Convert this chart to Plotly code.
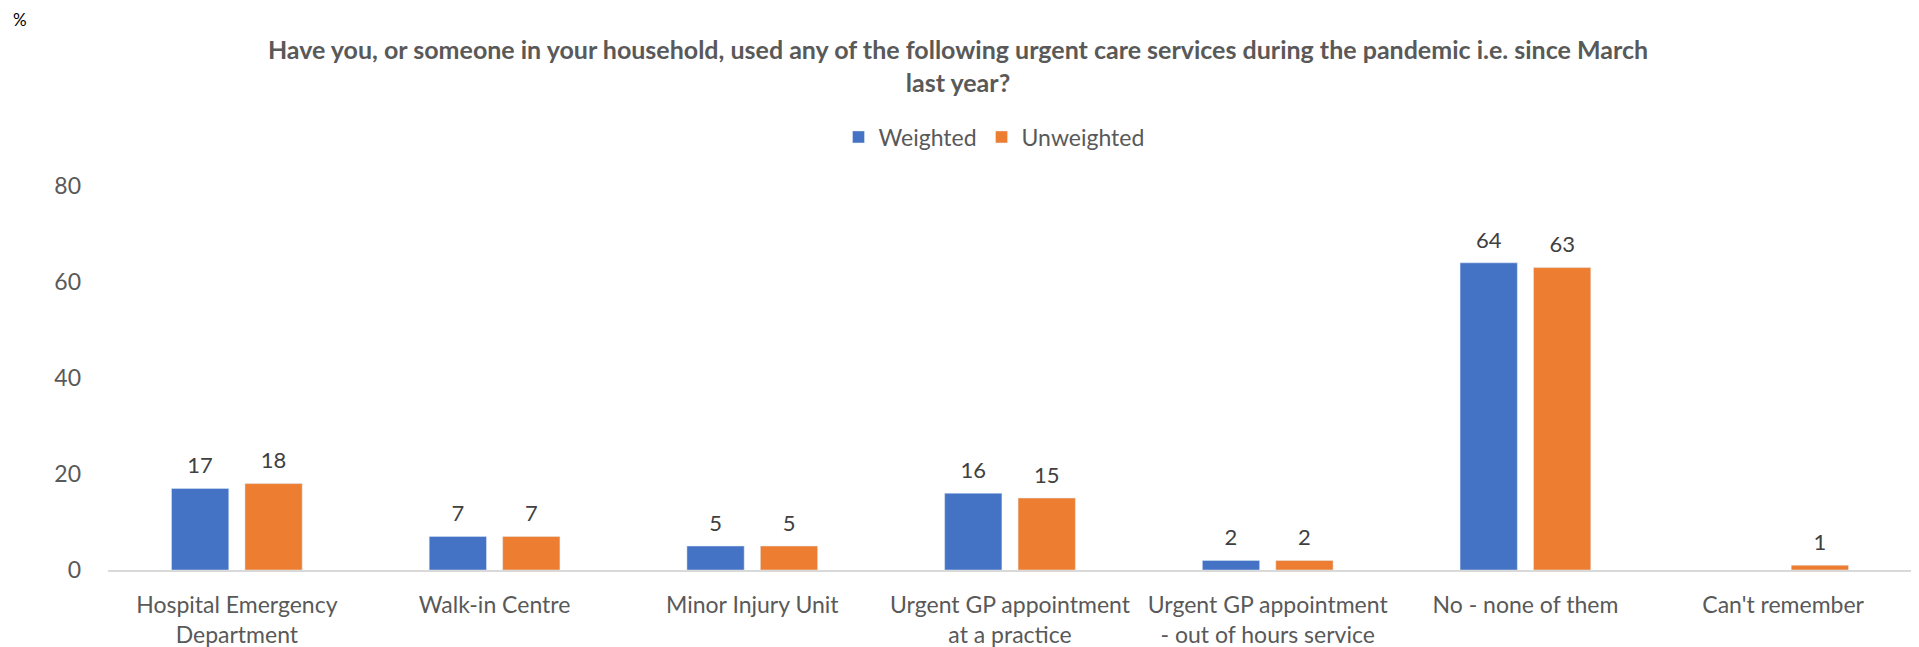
import plotly.graph_objects as go

categories = ["Hospital Emergency<br>Department", "Walk-in Centre", "Minor Injury Unit",
              "Urgent GP appointment<br>at a practice", "Urgent GP appointment<br>- out of hours service",
              "No - none of them", "Can't remember"]
weighted = [17, 7, 5, 16, 2, 64, None]
unweighted = [18, 7, 5, 15, 2, 63, 1]
y_ticks = [0, 20, 40, 60, 80]

FONT = "Lato"
GRAY = "#595959"
W, H = 1911, 639  # page body has an 8px margin
L, R, T, B = 100, 7, 178, 77
PW, PH = W - L - R, H - T - B


def labels(vals):
    return ["" if v is None else str(v) for v in vals]


fig = go.Figure()
for name, vals, color, grp in [("Weighted", weighted, "#4472C4", "w"),
                               ("Unweighted", unweighted, "#ED7D31", "u")]:
    fig.add_trace(go.Bar(name=name, x=categories, y=vals, marker_color=color,
                         offsetgroup=grp, alignmentgroup="a", hoverinfo="skip"))
for name, vals, grp in [("Weighted", weighted, "w"), ("Unweighted", unweighted, "u")]:
    fig.add_trace(go.Scatter(x=categories, y=vals, mode="markers+text", text=labels(vals),
                             textposition="top center", offsetgroup=grp, alignmentgroup="a",
                             marker=dict(size=14, opacity=0), showlegend=False, hoverinfo="skip",
                             cliponaxis=False,
                             textfont=dict(family=FONT, size=22, color="#404040")))

fig.update_layout(
    width=W, height=H,
    margin=dict(l=L, r=R, t=T, b=B, autoexpand=False),
    paper_bgcolor="white", plot_bgcolor="white",
    barmode="group", bargap=0.43, bargroupgap=0.22,
    scattermode="group", scattergap=0.43,
    font=dict(family=FONT, color=GRAY),
    title=dict(text="Have you, or someone in your household, used any of the following urgent care services during the pandemic i.e. since March<br>last year?",
               x=950 / W, xref="container", xanchor="center", y=1 - 51 / H, yref="container", yanchor="top",
               font=dict(family=FONT, size=25, color=GRAY, weight="bold")),
    legend=dict(orientation="h", x=(986 - L) / PW, xanchor="center", y=1 + (T - 129) / PH, yanchor="middle",
                font=dict(family=FONT, size=23, color=GRAY), itemwidth=30,
                traceorder="normal"),
    showlegend=True,
)
fig.update_xaxes(showline=True, linecolor="#D9D9D9", linewidth=2, showgrid=False,
                 tickfont=dict(family=FONT, size=23, color=GRAY), ticks="", ticklabelstandoff=13)
fig.update_yaxes(range=[0, 80], tickvals=y_ticks, showgrid=False, zeroline=False, showline=False,
                 tickfont=dict(family=FONT, size=23, color=GRAY), ticks="", ticklabelstandoff=26)
fig.add_annotation(text="%", xref="paper", yref="paper", x=(12 - L) / PW, y=1 + (T - 12) / PH,
                   showarrow=False, xanchor="center", yanchor="middle",
                   font=dict(family=FONT, size=17, color="#000000"))

fig.write_html("out.html")
